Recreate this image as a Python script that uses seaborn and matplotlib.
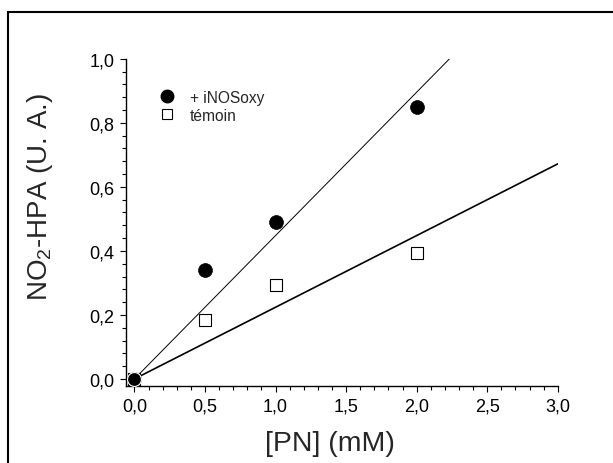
import numpy as np
import pandas as pd
import matplotlib
matplotlib.use("Agg")
import matplotlib.pyplot as plt
import seaborn as sns
from matplotlib.ticker import MultipleLocator, FuncFormatter
from matplotlib.lines import Line2D
from matplotlib.patches import Rectangle

# Data
pn_mM = [0.0, 0.5, 1.0, 2.0]
inosoxy = [0.0, 0.34, 0.49, 0.85]
temoin = [0.0, 0.185, 0.295, 0.395]
fit_slopes = {"+ iNOSoxy": 0.448, "témoin": 0.224}

sns.set_style("ticks")
plt.rcParams["font.family"] = ["Liberation Sans", "DejaVu Sans"]
plt.rcParams["mathtext.default"] = "regular"

df = pd.DataFrame({
    "PN": pn_mM * 2,
    "val": inosoxy + temoin,
    "serie": ["+ iNOSoxy"] * 4 + ["témoin"] * 4,
})

fig = plt.figure(figsize=(6.13, 4.64), dpi=100)
ax = fig.add_axes([0.2055, 0.166, 0.7045, 0.705])

xmin, xmax, ymin, ymax = -0.06, 3.0, -0.022, 1.0

# fitted lines through the origin, stopped at the frame
line_w = {"+ iNOSoxy": 0.7, "témoin": 1.2}
for name, slope in fit_slopes.items():
    x_end = min(xmax, ymax / slope)
    sns.lineplot(x=[0.0, x_end], y=[0.0, slope * x_end], ax=ax,
                 color="black", linewidth=line_w[name], zorder=2)

sns.scatterplot(data=df[df.serie == "+ iNOSoxy"], x="PN", y="val", ax=ax,
                marker="o", s=100, color="black", edgecolor="black",
                linewidth=0.5, zorder=3, clip_on=False)
sns.scatterplot(data=df[df.serie == "témoin"], x="PN", y="val", ax=ax,
                marker="s", s=85, facecolor="white", edgecolor="black",
                linewidth=0.8, zorder=3, clip_on=False)
# the origin point is filled in the reference
sns.scatterplot(x=[pn_mM[0]], y=[inosoxy[0]], ax=ax, marker="o", s=100,
                color="black", zorder=4, clip_on=False)

ax.set_xlim(xmin, xmax)
ax.set_ylim(ymin, ymax)
ax.xaxis.set_major_locator(MultipleLocator(0.5))
ax.xaxis.set_minor_locator(MultipleLocator(0.1))
ax.yaxis.set_major_locator(MultipleLocator(0.2))
ax.yaxis.set_minor_locator(MultipleLocator(0.04))
fmt = FuncFormatter(lambda v, p: f"{v:.1f}".replace(".", ","))
ax.xaxis.set_major_formatter(fmt)
ax.yaxis.set_major_formatter(fmt)

sns.despine(ax=ax)
for s in ["left", "bottom"]:
    ax.spines[s].set_linewidth(1.0)
    ax.spines[s].set_color("black")
ax.tick_params(which="major", direction="out", length=4.5, width=0.8,
               labelsize=13, colors="black", pad=4)
ax.tick_params(which="minor", direction="out", length=3, width=0.8,
               colors="black")

ax.set_xlabel("[PN] (mM)", fontsize=20.5)
ax.set_ylabel("NO$_2$-HPA (U. A.)", fontsize=20)
ax.xaxis.set_label_coords(0.472, -0.135)
ax.yaxis.set_label_coords(-0.165, 0.58)

handles = [
    Line2D([], [], marker="o", linestyle="none", color="black",
           markersize=9, label="+ iNOSoxy"),
    Line2D([], [], marker="s", linestyle="none", markerfacecolor="white",
           markeredgecolor="black", markersize=7, markeredgewidth=0.8,
           label="témoin"),
]
ax.legend(handles=handles, loc="upper left", bbox_to_anchor=(0.058, 0.93),
          frameon=False, fontsize=11.2, handlelength=1.0, handletextpad=1.0,
          labelspacing=0.2, borderpad=0)

# outer frame (only left/top edges visible in the reference)
fig.patches.append(Rectangle((8 / 613, -0.1), 1.2, 1 - 13 / 464 + 0.1,
                             transform=fig.transFigure, fill=False,
                             edgecolor="black", linewidth=1.5))

fig.savefig("out.png", dpi=100)
